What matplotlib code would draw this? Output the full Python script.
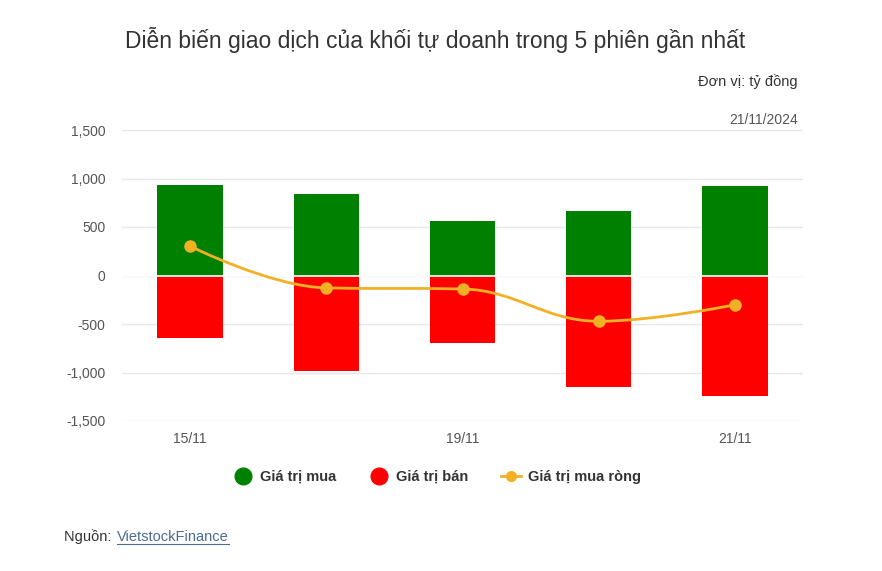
import matplotlib.pyplot as plt
from matplotlib.path import Path
from matplotlib.patches import PathPatch
from matplotlib.lines import Line2D

plt.rcParams['font.family'] = ['Liberation Sans', 'DejaVu Sans']

# data (ty dong)
dates = ['15/11', '18/11', '19/11', '20/11', '21/11']
buy = [937, 836, 562, 667, 927]
sell = [-646, -982, -698, -1153, -1247]
net = [302, -128, -139, -472, -302]
y_ticks = [-1500, -1000, -500, 0, 500, 1000, 1500]

GREEN = '#008000'
RED = '#ff0000'
GOLD = '#f2b124'

fig = plt.figure(figsize=(8.82, 5.71), dpi=100)
ax = fig.add_axes([122 / 882, 1 - 421 / 571, 681 / 882, 291 / 571])

x = list(range(len(dates)))
ax.bar(x, buy, width=0.48, color=GREEN, zorder=2)
ax.bar(x, sell, width=0.48, color=RED, zorder=2)
ax.axhline(0, color='white', lw=1.2, zorder=3)


# smooth line like a highcharts spline
def spline_path(xs, ys, smoothing=1.5):
    denom = smoothing + 1
    n = len(xs)
    lc = [(xs[i], ys[i]) for i in range(n)]
    rc = [(xs[i], ys[i]) for i in range(n)]
    for i in range(1, n - 1):
        px, py = xs[i], ys[i]
        lx = (smoothing * px + xs[i - 1]) / denom
        ly = (smoothing * py + ys[i - 1]) / denom
        rx = (smoothing * px + xs[i + 1]) / denom
        ry = (smoothing * py + ys[i + 1]) / denom
        if rx != lx:
            corr = (ry - ly) * (rx - px) / (rx - lx) + py - ry
            ly += corr
            ry += corr
        if ly > ys[i - 1] and ly > py:
            ly = max(ys[i - 1], py)
            ry = 2 * py - ly
        elif ly < ys[i - 1] and ly < py:
            ly = min(ys[i - 1], py)
            ry = 2 * py - ly
        if ry > ys[i + 1] and ry > py:
            ry = max(ys[i + 1], py)
            ly = 2 * py - ry
        elif ry < ys[i + 1] and ry < py:
            ry = min(ys[i + 1], py)
            ly = 2 * py - ry
        lc[i] = (lx, ly)
        rc[i] = (rx, ry)
    verts = [(xs[0], ys[0])]
    codes = [Path.MOVETO]
    for i in range(1, n):
        verts += [rc[i - 1], lc[i], (xs[i], ys[i])]
        codes += [Path.CURVE4] * 3
    return Path(verts, codes)


ax.add_patch(PathPatch(spline_path(x, net), fill=False, edgecolor=GOLD, lw=2, zorder=4))
ax.plot(x, net, 'o', color=GOLD, ms=8, zorder=5)

ax.set_xlim(-0.5, len(dates) - 0.5)
ax.set_ylim(-1500, 1500)
ax.set_yticks(y_ticks)
ax.set_yticklabels(['{:,}'.format(v) for v in y_ticks])
ax.set_xticks([0, 2, 4])
ax.set_xticklabels([dates[0], dates[2], dates[4]])
ax.tick_params(length=0, labelsize=10, colors='#555555')
ax.tick_params(axis='y', pad=12)
ax.tick_params(axis='x', pad=8)
ax.grid(axis='y', color='#e6e6e6', lw=1, zorder=0)
for s in ax.spines.values():
    s.set_visible(False)

fig.text(435 / 882, 1 - 40 / 571, 'Diễn biến giao dịch của khối tự doanh trong 5 phiên gần nhất',
         ha='center', va='center', fontsize=16.5, color='#333333')
fig.text(798 / 882, 1 - 82 / 571, 'Đơn vị: tỷ đồng', ha='right', va='center',
         fontsize=10.5, color='#333333')
fig.text(798 / 882, 1 - 120 / 571, '21/11/2024', ha='right', va='center',
         fontsize=10, color='#555555')

handles = [
    Line2D([], [], ls='none', marker='o', ms=12, color=GREEN),
    Line2D([], [], ls='none', marker='o', ms=12, color=RED),
    Line2D([], [], color=GOLD, lw=2, marker='o', ms=7),
]
fig.legend(handles, ['Giá trị mua', 'Giá trị bán', 'Giá trị mua ròng'],
           loc='center', bbox_to_anchor=(437 / 882, 1 - 477 / 571), ncol=3,
           frameon=False, handlelength=1.4, columnspacing=2.2, handletextpad=0.5,
           prop={'weight': 'bold', 'size': 10.5}, labelcolor='#333333')

fig.text(64 / 882, 1 - 537 / 571, 'Nguồn: ', ha='left', va='center', fontsize=10.5, color='#333333')
fig.text(117 / 882, 1 - 537 / 571, 'VietstockFinance', ha='left', va='center', fontsize=10.5,
         color='#4a6c91')
fig.add_artist(Line2D([117 / 882, 229 / 882], [1 - 544 / 571, 1 - 544 / 571], color='#4a6c91', lw=0.8))

fig.savefig('out.png', dpi=100, facecolor='white')
